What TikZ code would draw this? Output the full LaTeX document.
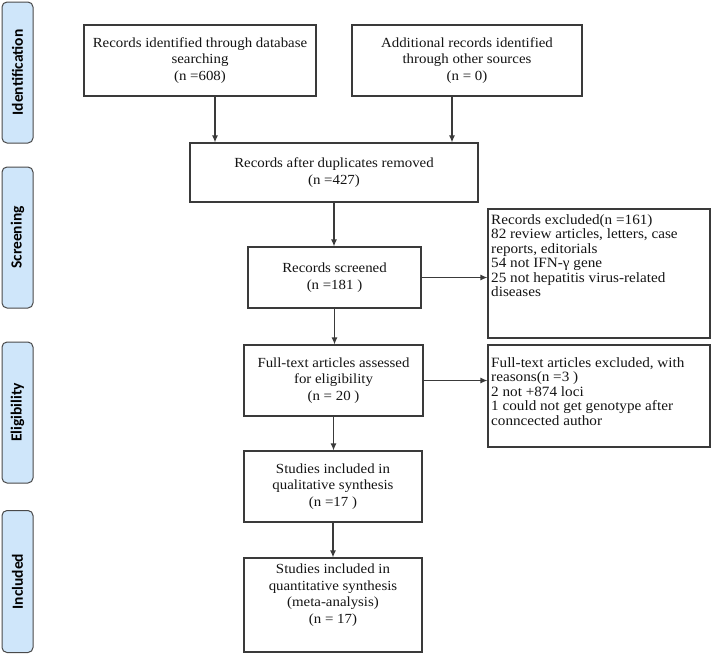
\documentclass[tikz,border=0pt]{standalone}
\usepackage{fontspec}
\setmainfont{Liberation Serif}[FakeStretch=1.07]
\newfontfamily\labelfont{Carlito}
\usetikzlibrary{arrows.meta}
\definecolor{linegray}{HTML}{3A3A3A}
\definecolor{sidegray}{HTML}{4A4A4A}
\definecolor{sideblue}{HTML}{CFE6FA}
\definecolor{textdark}{HTML}{141414}
\begin{document}
\begin{tikzpicture}[x=1pt,y=-1pt,
  box/.style={draw=linegray, line width=1.2pt, inner sep=0pt, align=center,
    font=\fontsize{13.9}{16.5}\selectfont, text=textdark},
  plainbox/.style={draw=linegray, line width=1.2pt, inner sep=0pt},
  listtext/.style={inner sep=0pt, align=left, anchor=north west,
    font=\fontsize{14.2}{14.5}\selectfont, text=textdark},
  side/.style={draw=sidegray, fill=sideblue, rounded corners=5pt, line width=1pt, inner sep=0pt},
  sidetext/.style={rotate=90, font=\labelfont\bfseries\fontsize{15.5}{18}\selectfont, text=black},
  arr/.style={-{Latex[length=7pt,width=6pt]}, line width=1.2pt, draw=linegray}]
\useasboundingbox[fill=white] (0,0) rectangle (712,654);

% side labels
\node[side, minimum width=31pt, minimum height=141pt] (sid) at (17.5,72.5) {};
\node[sidetext] (sidt) at (sid.center) {Identification};
\node[side, minimum width=31pt, minimum height=141pt] (sscr) at (17.5,237.5) {};
\node[sidetext] (sscrt) at (sscr.center) {Screening};
\node[side, minimum width=31pt, minimum height=141pt] (selig) at (17.5,412.5) {};
\node[sidetext] (seligt) at (selig.center) {Eligibility};
\node[side, minimum width=31pt, minimum height=142pt] (sinc) at (17.5,581.5) {};
\node[sidetext] (sinct) at (sinc.center) {Included};

% main boxes
\node[box, minimum width=232pt, minimum height=71pt] (db) at (200,60.5)
  {Records identified through database\\searching\\(n =608)};
\node[box, minimum width=230pt, minimum height=71pt] (other) at (467,60.5)
  {Additional records identified\\through other sources\\(n = 0)};
\node[box, minimum width=288pt, minimum height=59pt] (dup) at (334,172.5)
  {Records after duplicates removed\\(n =427)};
\node[box, minimum width=173pt, minimum height=61pt] (scr) at (334.5,277.5)
  {Records screened\\(n =181 )};
\node[box, minimum width=179pt, minimum height=71pt] (full) at (333.5,380.5)
  {Full-text articles assessed\\for eligibility\\(n = 20 )};
\node[box, minimum width=178pt, minimum height=71pt] (qual) at (333,486.5)
  {Studies included in\\qualitative synthesis\\(n =17 )};
\node[box, minimum width=178pt, minimum height=94pt] (quant) at (333,605)
  {Studies included in\\quantitative synthesis\\(meta-analysis)\\(n = 17)\\[6pt]};

% exclusion boxes
\node[plainbox, minimum width=222pt, minimum height=129pt] (ex1) at (599,273.5) {};
\node[listtext] (ex1t) at (491,214)
  {Records excluded(n =161)\\82 review articles, letters, case\\reports, editorials\\54 not IFN-γ gene\\25 not hepatitis virus-related\\diseases};
\node[plainbox, minimum width=222pt, minimum height=102pt] (ex2) at (599,396) {};
\node[listtext] (ex2t) at (491,357)
  {Full-text articles excluded, with\\reasons(n =3 )\\2 not +874 loci\\1 could not get genotype after\\conncected author};

% connectors
\draw[arr] ([xshift=15pt]db.south) -- ([xshift=15pt]db.south |- dup.north);
\draw[arr] ([xshift=-15pt]other.south) -- ([xshift=-15pt]other.south |- dup.north);
\draw[arr] (dup.south) -- (dup.south |- scr.north);
\draw[arr] (scr.south) -- (scr.south |- full.north);
\draw[arr] (full.south) -- (full.south |- qual.north);
\draw[arr] (qual.south) -- (qual.south |- quant.north);
\draw[arr] (scr.east) -- (scr.east -| ex1.west);
\draw[arr] (full.east) -- (full.east -| ex2.west);
\end{tikzpicture}
\end{document}
